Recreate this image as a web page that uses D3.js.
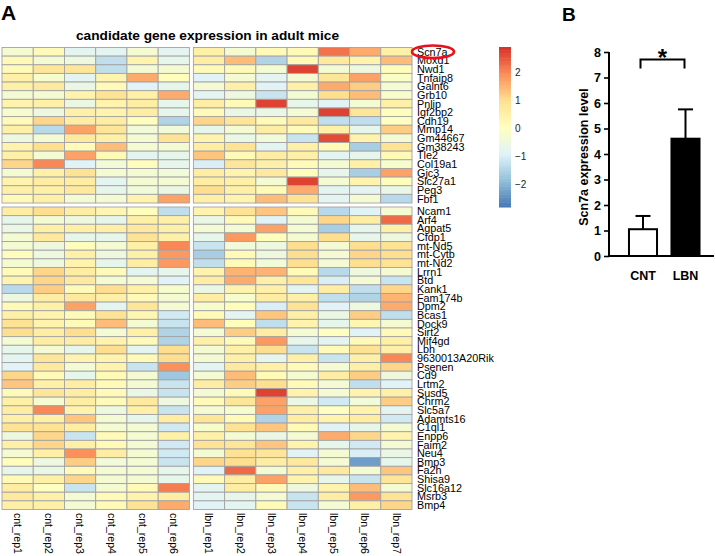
<!DOCTYPE html>
<html><head><meta charset="utf-8">
<script src="https://cdn.jsdelivr.net/npm/d3@7"></script>
<style>body{margin:0;background:#fff} svg{display:block}</style>
</head><body>
<svg id="c" width="715" height="556"></svg>
<script>
// ---------------- DATA ----------------
const samplesCnt = ["cnt_rep1","cnt_rep2","cnt_rep3","cnt_rep4","cnt_rep5","cnt_rep6"];
const samplesLbn = ["lbn_rep1","lbn_rep2","lbn_rep3","lbn_rep4","lbn_rep5","lbn_rep6","lbn_rep7"];
const genesTop = ["Scn7a","Moxd1","Nwd1","Tnfaip8","Galnt6","Grb10","Pnlip","Igf2bp2","Cdh19","Mmp14","Gm44667","Gm38243","Tle2","Col19a1","Gjc3","Slc27a1","Peg3","Fbf1"];
const genesBottom = ["Ncam1","Arf4","Agpat5","Cfdp1","mt-Nd5","mt-Cytb","mt-Nd2","Lrrn1","Btd","Kank1","Fam174b","Dpm2","Bcas1","Dock9","Sirt2","Mif4gd","Lbh","9630013A20Rik","Psenen","Cd9","Lrtm2","Susd5","Chrm2","Slc5a7","Adamts16","C1ql1","Enpp6","Faim2","Neu4","Bmp3","Fa2h","Shisa9","Slc16a12","Msrb3","Bmp4"];
// z-scores, one row per gene: cnt_rep1..6, lbn_rep1..7
const valuesTop = [
[-0.3,0.2,-0.8,-0.8,-0.3,-0.8, 0.5,-0.3,0.2,0.2,2.2,1.6,0.5],
[0.2,-0.3,-0.5,-1.3,0.4,-0.7, 0.6,1.4,-1.5,0.2,0.7,0.4,1.4],
[0.2,0.8,0.8,-1.3,-0.3,-0.3, 0.2,0.2,-0.3,2.7,-0.3,-0.5,0.1],
[0.5,-0.2,-0.8,0.4,1.6,0.1, -0.9,-0.3,-0.8,-0.3,0.8,1.7,-0.1],
[0.5,0.7,-0.6,0.2,-0.9,-0.7, -0.3,0.5,-0.9,0.5,1.6,1.2,-0.3],
[-0.3,-0.3,0.4,0.9,0.5,1.6, -0.8,-0.5,-1.2,-0.3,1.0,1.4,-0.2],
[0.4,0.5,-0.6,0.4,0.6,-0.7, 0.6,0.2,2.7,-0.7,-0.9,-0.3,0.5],
[-0.2,-0.5,0.5,0.4,0.6,-0.7, 0.2,-0.6,-0.6,-0.3,2.7,0.8,0.1],
[0.2,1.1,0.6,0.6,0.1,-1.5, 1.1,0.8,0.2,0.7,-1.3,-1.3,0.0],
[0.5,-1.4,1.7,0.8,-0.4,-0.4, -0.7,-0.3,0.6,0.2,0.5,-0.7,1.2],
[-0.5,-0.3,0.7,0.5,-0.3,0.9, 0.4,-0.6,-0.4,-1.2,2.6,0.4,-0.3],
[0.4,1.0,0.2,1.4,-0.3,-0.3, 0.6,0.9,-0.8,0.5,0.2,-1.6,0.9],
[0.5,-0.3,1.7,0.2,-0.8,-0.7, 1.3,0.2,0.6,0.5,-0.8,-0.7,0.2],
[1.1,2.0,-0.9,-0.4,0.1,-0.7, -1.0,0.8,0.5,0.2,-0.3,0.5,-0.2],
[-0.3,0.5,0.9,-0.3,-0.3,-0.4, 0.6,0.4,0.7,0.1,-0.7,-1.6,1.7],
[0.4,0.6,0.6,-0.8,-0.3,-0.3, 0.6,0.5,-0.3,2.7,-0.3,0.4,0.1],
[0.5,0.5,0.7,-0.7,-0.4,-0.6, 1.0,0.5,0.2,1.6,-0.8,-0.8,-0.6],
[0.2,0.5,-0.3,-0.3,0.4,1.7, 0.5,0.4,1.4,0.9,-0.8,-0.3,-1.4]
];
const valuesBottom = [
[0.6,1.0,0.6,0.3,0.1,-1.3, 0.4,0.9,1.3,0.2,-1.4,-0.9,-0.3],
[-0.7,-0.3,-0.5,-0.7,0.5,0.5, -0.6,0.2,-0.9,-0.3,1.1,0.6,2.3],
[-0.6,0.5,0.5,0.5,0.7,0.5, -0.3,-0.3,1.7,-0.3,-1.6,-0.7,0.5],
[-0.3,0.7,-0.7,-0.7,0.9,0.5, -0.7,1.8,0.1,-0.3,1.0,-0.7,-0.5],
[-0.3,-0.5,0.1,-0.3,0.5,2.0, -1.2,-0.4,-0.5,1.0,-0.3,1.0,0.9],
[0.1,-0.5,0.5,-0.5,0.5,1.8, -1.6,0.2,-0.5,1.0,-0.3,1.1,1.0],
[-0.3,-0.5,0.4,-0.7,0.6,1.8, -1.3,0.2,-0.4,1.0,-0.3,1.0,0.9],
[0.2,1.1,0.6,0.2,-0.8,-0.7, 0.4,1.5,1.5,0.2,-1.4,-0.5,-0.3],
[0.4,1.1,0.7,-0.3,-0.3,-0.9, 0.6,1.6,0.5,0.8,-1.0,-0.3,-1.2],
[-1.4,1.2,0.2,1.0,0.5,-0.2, -0.6,0.4,0.5,-0.8,0.6,-1.3,1.1],
[-0.5,0.6,0.7,0.5,0.2,-0.3, 0.6,-0.2,0.6,0.5,-1.3,-1.5,1.5],
[0.2,0.5,1.7,-0.8,0.8,-0.3, -0.2,0.1,-1.0,0.9,-0.9,-0.5,1.6],
[0.5,0.4,0.2,0.9,0.3,-1.1, 0.2,-0.8,1.3,0.5,-0.6,1.2,-1.3],
[0.9,0.4,0.2,1.4,-0.3,-1.2, 1.4,0.1,-1.3,0.4,-0.7,0.3,-0.3],
[1.0,0.6,1.0,-0.3,0.5,-1.5, -0.3,1.2,0.6,-0.3,0.0,-0.9,0.2],
[-0.3,0.6,0.6,0.4,0.2,-1.5, 0.5,0.2,1.8,-0.7,-0.8,0.2,0.5],
[-0.7,-0.3,-0.7,1.0,-0.8,1.0, -0.3,0.5,1.0,-1.2,0.2,0.9,0.5],
[-0.8,0.8,0.4,0.4,0.2,1.0, -0.3,0.5,-0.7,0.5,-1.2,0.5,2.0],
[-0.9,0.7,-0.3,0.4,-1.2,1.9, -0.8,0.7,0.5,0.2,-0.3,0.5,1.1],
[1.1,0.2,-0.7,0.2,-0.3,-1.7, -0.3,1.4,0.2,-0.3,0.6,1.2,-0.5],
[1.3,0.5,0.6,0.2,-0.3,-1.2, 0.6,1.2,1.0,0.2,-0.3,-1.3,-0.9],
[0.2,0.8,0.6,0.2,-0.6,-1.2, -0.3,0.2,2.7,0.4,-0.3,0.4,0.5],
[0.5,-0.3,0.6,0.2,0.7,-0.5, 0.2,0.8,1.7,-0.6,-1.1,-0.4,1.2],
[0.6,2.0,0.4,-0.5,0.5,-1.2, -0.3,-0.2,1.7,0.5,0.0,0.4,-0.8],
[0.5,0.5,1.3,-0.3,-0.7,0.6, 0.8,0.2,-1.5,0.6,0.4,0.6,-1.1],
[0.9,0.9,0.6,-0.3,-0.3,-1.1, -0.2,0.9,1.3,0.2,-0.9,-0.7,-0.3],
[-0.5,1.1,-1.2,0.2,-0.3,0.5, 0.5,-0.3,-0.6,-0.3,1.6,1.1,0.4],
[0.5,1.1,0.5,0.2,-0.3,-1.1, 0.9,0.8,1.3,0.4,-0.7,-1.1,-0.3],
[-0.3,0.5,1.9,0.6,-0.3,-1.1, -0.3,0.9,0.8,-0.9,-0.3,-1.0,-0.6],
[0.1,-0.5,1.2,-0.4,-0.3,-1.2, 1.1,1.0,0.6,0.7,-0.3,-2.3,-0.7],
[-0.7,-0.6,0.2,-0.3,-0.3,-0.7, -0.9,2.3,-0.3,0.5,0.7,-0.3,1.3],
[0.2,0.5,1.1,-0.3,-0.3,-0.7, 0.2,0.6,1.7,0.4,-0.7,-1.2,0.8],
[0.6,0.0,-1.2,-0.3,0.2,2.1, -0.8,0.6,0.2,-0.5,0.4,1.4,-0.3],
[0.7,0.5,-0.3,0.2,0.4,0.6, -0.8,-0.7,-0.3,-1.2,0.6,1.8,0.9],
[0.5,0.5,-0.3,0.2,0.9,1.6, -0.9,-0.8,0.2,-1.2,-0.3,0.5,1.1]
];
const colorRange = [-2.82, 2.89];
const legendTicks = [-2, -1, 0, 1, 2];
const paletteColors = ["#4575B4","#91BFDB","#E0F3F8","#FFFFBF","#FEE090","#FC8D59","#D73027"];
const barGroups = ["CNT", "LBN"];
const barMeans = [1.05, 4.6];
const barSem = [0.52, 1.15];
const barTicks = [0,1,2,3,4,5,6,7,8];

// ---------------- DRAW ----------------
const FONT = "'Liberation Sans', Arial, Helvetica, sans-serif";
const svg = d3.select("#c").style("font-family", FONT);

const lo = colorRange[0], hi = colorRange[1];
const color = d3.scaleLinear()
  .domain(paletteColors.map((c, i) => lo + i * (hi - lo) / (paletteColors.length - 1)))
  .range(paletteColors).interpolate(d3.interpolateRgb).clamp(true);

const xCnt = d3.scaleBand().domain(samplesCnt).range([2, 189.4]);
const xLbn = d3.scaleBand().domain(samplesLbn).range([193.4, 412]);
const xOf = s => samplesCnt.includes(s) ? xCnt(s) : xLbn(s);
const wOf = s => samplesCnt.includes(s) ? xCnt.bandwidth() : xLbn.bandwidth();
const yTop = d3.scaleBand().domain(genesTop).range([47.5, 203]);
const yBot = d3.scaleBand().domain(genesBottom).range([207, 509.5]);
const allSamples = samplesCnt.concat(samplesLbn);

function drawBlock(genes, values, yScale) {
  const cells = [];
  genes.forEach((g, i) => allSamples.forEach((s, j) => cells.push({g, s, v: values[i][j]})));
  svg.append("g").selectAll("rect").data(cells).join("rect")
    .attr("x", d => xOf(d.s)).attr("y", d => yScale(d.g))
    .attr("width", d => wOf(d.s))
    .attr("height", yScale.bandwidth())
    .attr("fill", d => color(d.v))
    .attr("stroke", "#a3a3a3").attr("stroke-width", 0.9);
  svg.append("g").selectAll("text").data(genes).join("text")
    .attr("x", 417).attr("y", d => yScale(d) + yScale.bandwidth() / 2)
    .attr("dy", "0.36em").attr("font-size", 10.8).attr("fill", "#000")
    .text(d => d);
}
drawBlock(genesTop, valuesTop, yTop);
drawBlock(genesBottom, valuesBottom, yBot);

// highlight ellipse around Scn7a
svg.append("ellipse")
  .attr("cx", 433).attr("cy", yTop("Scn7a") + yTop.bandwidth() / 2)
  .attr("rx", 21).attr("ry", 6.3)
  .attr("fill", "none").attr("stroke", "#e8101a").attr("stroke-width", 2.6);

// column labels
svg.append("g").selectAll("text").data(allSamples).join("text")
  .attr("transform", d => `translate(${xOf(d) + wOf(d) / 2},513) rotate(90)`)
  .attr("dy", "0.35em").attr("font-size", 10.5).attr("fill", "#000")
  .text(d => d);

// title + panel letters
svg.append("text").attr("x", 207.5).attr("y", 40).attr("text-anchor", "middle")
  .attr("font-size", 12.6).attr("font-weight", "bold")
  .attr("textLength", 263).attr("lengthAdjust", "spacingAndGlyphs")
  .text("candidate gene expression in adult mice");
svg.append("text").attr("x", 1).attr("y", 20).attr("font-size", 21).attr("font-weight", "bold").text("A");
svg.append("text").attr("x", 562).attr("y", 21).attr("font-size", 19).attr("font-weight", "bold").text("B");

// legend
const yLeg = d3.scaleLinear().domain([lo, hi]).range([207, 47]);
const nSteps = 100;
const legSteps = d3.range(nSteps).map(i => lo + (i + 0.5) * (hi - lo) / nSteps);
svg.append("g").selectAll("rect").data(legSteps).join("rect")
  .attr("x", 499).attr("width", 12)
  .attr("y", d => yLeg(d + (hi - lo) / nSteps / 2))
  .attr("height", Math.abs(yLeg(0) - yLeg((hi - lo) / nSteps)) + 0.5)
  .attr("fill", d => color(d));
const legAxis = d3.axisRight(yLeg).tickValues(legendTicks).tickSize(0).tickPadding(4).tickFormat(d3.format("d"));
const lg = svg.append("g").attr("transform", "translate(511,0)").call(legAxis);
lg.select(".domain").remove();
lg.selectAll("text").attr("font-size", 10).attr("font-family", FONT).attr("fill", "#222");

// ---------------- Panel B bar chart ----------------
const yB = d3.scaleLinear().domain([0, 8]).range([256, 52]);
const xB = d3.scaleBand().domain(barGroups).range([609, 719.5]).paddingInner(0.34).paddingOuter(0.47);
const gB = svg.append("g");
const yAxB = d3.axisLeft(yB).tickValues(barTicks).tickSize(5).tickSizeOuter(0).tickPadding(3);
const ax = gB.append("g").attr("transform", "translate(609,0)").call(yAxB);
ax.select(".domain").attr("stroke-width", 2).attr("d", `M0,${yB(8)}V${yB(0)}`);
ax.selectAll(".tick line").attr("stroke-width", 1.6);
ax.selectAll("text").attr("font-size", 12.5).attr("font-weight", "bold").attr("font-family", FONT).attr("fill", "#000");
gB.append("line").attr("x1", 608).attr("x2", 714).attr("y1", yB(0)).attr("y2", yB(0))
  .attr("stroke", "#000").attr("stroke-width", 2);

const barData = barGroups.map((g, i) => ({g, m: barMeans[i], s: barSem[i], i}));
const cx = d => xB(d.g) + xB.bandwidth() / 2;
gB.selectAll("line.err").data(barData).join("line").attr("class", "err")
  .attr("x1", cx).attr("x2", cx)
  .attr("y1", d => yB(d.m)).attr("y2", d => yB(d.m + d.s))
  .attr("stroke", "#000").attr("stroke-width", 2);
gB.selectAll("line.cap").data(barData).join("line").attr("class", "cap")
  .attr("x1", d => cx(d) - 7.5).attr("x2", d => cx(d) + 7.5)
  .attr("y1", d => yB(d.m + d.s)).attr("y2", d => yB(d.m + d.s))
  .attr("stroke", "#000").attr("stroke-width", 2);
gB.selectAll("rect.bar").data(barData).join("rect").attr("class", "bar")
  .attr("x", d => xB(d.g)).attr("width", xB.bandwidth())
  .attr("y", d => yB(d.m)).attr("height", d => yB(0) - yB(d.m))
  .attr("fill", d => d.i === 0 ? "#fff" : "#000")
  .attr("stroke", "#000").attr("stroke-width", 2);
gB.selectAll("text.xl").data(barGroups).join("text").attr("class", "xl")
  .attr("x", d => xB(d) + xB.bandwidth() / 2).attr("y", 280)
  .attr("text-anchor", "middle").attr("font-size", 12.5).attr("font-weight", "bold").text(d => d);

// y label
gB.append("text").attr("transform", `translate(588,${(yB(0) + yB(8)) / 2 + 3}) rotate(-90)`)
  .attr("text-anchor", "middle").attr("font-size", 12.5).attr("font-weight", "bold")
  .text("Scn7a expression level");

// significance bracket
const c1 = xB("CNT") + xB.bandwidth() / 2, c2 = xB("LBN") + xB.bandwidth() / 2;
const bxl = c1 - 2.5, bxr = c2 - 1;
gB.append("path").attr("d", `M${bxl},68.5V59.5H${bxr}V68.5`)
  .attr("fill", "none").attr("stroke", "#000").attr("stroke-width", 2);
gB.append("text").attr("x", (bxl + bxr) / 2).attr("y", 66).attr("text-anchor", "middle")
  .attr("font-size", 24).attr("font-weight", "bold").text("*");
</script>
</body></html>
